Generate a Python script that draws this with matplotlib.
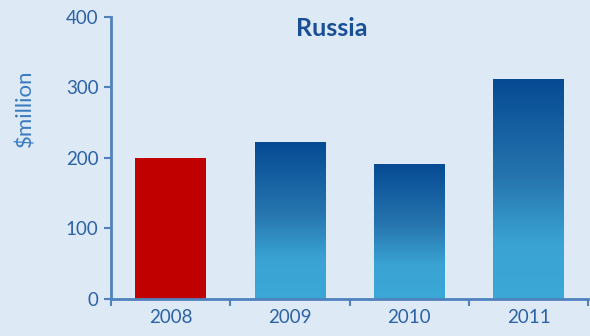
import numpy as np
import matplotlib
matplotlib.use("Agg")
from matplotlib import pyplot as plt
from matplotlib.colors import LinearSegmentedColormap

years = ["2008", "2009", "2010", "2011"]
values = [200, 222, 192, 312]
highlight = [True, False, False, False]

BG = "#dde9f5"
AXIS = "#4f81bd"
TEXT = "#2c62a6"

plt.rcParams["font.family"] = ["Lato", "DejaVu Sans"]

fig = plt.figure(figsize=(5.9, 3.36), dpi=100, facecolor=BG)
ax = fig.add_axes([0.188, 0.110, 0.809, 0.840], facecolor=BG)

# dark navy at the top fading to sky blue near the bottom
grad = LinearSegmentedColormap.from_list(
    "bar_grad", [(0.0, "#3ba8d8"), (0.25, "#3aa3d3"), (0.55, "#2675af"), (1.0, "#054a93")])

x = np.arange(len(years))
width = 0.59
bars = ax.bar(x, values, width=width, color="#c00000", zorder=2)
for bar, hl in zip(bars, highlight):
    if hl:
        continue
    bar.set_facecolor("none")
    x0, y0 = bar.get_x(), bar.get_y()
    w, h = bar.get_width(), bar.get_height()
    img = ax.imshow(np.linspace(0, 1, 256).reshape(-1, 1), cmap=grad, origin="lower",
                    extent=[x0, x0 + w, y0, y0 + h], aspect="auto", zorder=2)
    img.set_clip_path(bar)

ax.set_xlim(-0.5, len(years) - 0.5)
ax.set_ylim(0, 400)
ax.set_yticks([0, 100, 200, 300, 400])
ax.set_xticks(x)
ax.set_xticklabels(years)
ax.set_xticks(np.arange(len(years) + 1) - 0.5, minor=True)

for side in ["top", "right"]:
    ax.spines[side].set_visible(False)
for side in ["left", "bottom"]:
    ax.spines[side].set_color(AXIS)
    ax.spines[side].set_linewidth(2)

ax.tick_params(axis="y", colors=AXIS, labelcolor=TEXT, labelsize=13.5, length=5, width=1.5, pad=4)
ax.tick_params(axis="x", which="major", length=0, labelcolor=TEXT, labelsize=13.5, pad=7)
ax.tick_params(axis="x", which="minor", colors=AXIS, length=5, width=1.5)

ax.set_ylabel("$million", color="#3a7cc0", fontsize=16)
ax.yaxis.set_label_coords(-0.158, 0.675)
fig.text(0.563, 0.893, "Russia", color="#1a4f95", fontsize=18, fontweight="bold",
         ha="center", va="baseline")

fig.savefig("out.png", dpi=100, facecolor=BG)
